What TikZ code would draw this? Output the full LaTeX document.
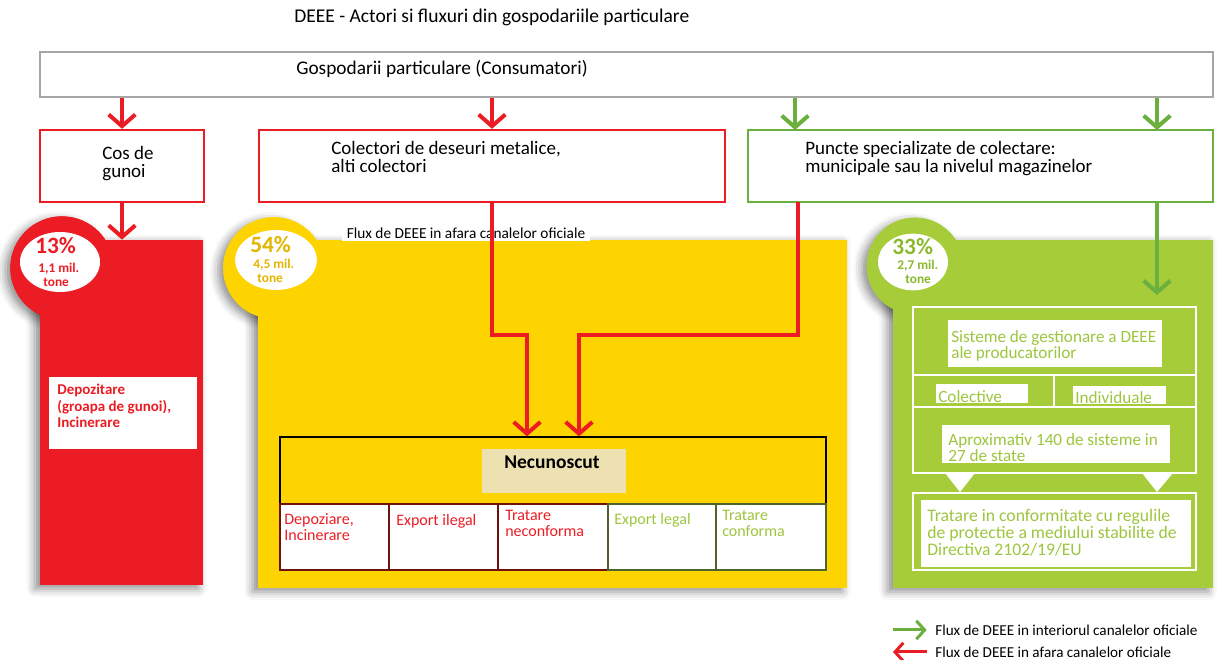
\documentclass[tikz,border=0pt]{standalone}
\usepackage{fontspec}
\setmainfont{Carlito}
\usetikzlibrary{arrows.meta,fit,shapes.geometric,shadows.blur,positioning}

\definecolor{deeered}{HTML}{EC1C24}
\definecolor{deeeyellow}{HTML}{FDD300}
\definecolor{deeegreen}{HTML}{A6CC3A}
\definecolor{flowgreen}{HTML}{6BAF3E}
\definecolor{textgreen}{HTML}{9DC63E}
\definecolor{pctyellow}{HTML}{E3B500}
\definecolor{pctgreen}{HTML}{8CB82E}
\definecolor{cellred}{HTML}{6E1111}
\definecolor{cellgreen}{HTML}{4E632C}
\definecolor{beige}{HTML}{EDE1B2}

\tikzset{>=stealth,
  every node/.style={inner sep=0pt},
  lbl/.style={anchor=north west, align=left, font=\fontsize{11.4}{10.8}\selectfont},
  graybox/.style={draw=gray!70, line width=1.4pt},
  redbox/.style={draw=deeered, line width=1.4pt},
  greenbox/.style={draw=flowgreen, line width=1.4pt},
  wbox/.style={fill=white},
  wline/.style={draw=white, line width=1.2pt},
  panelshadow/.style={blur shadow={shadow xshift=-3pt, shadow yshift=-2pt, shadow blur radius=5pt, shadow opacity=45}},
  bubble/.style={circle, minimum size=#1},
  inner/.style={ellipse, fill=white},
  pct/.style={anchor=west, font=\bfseries\fontsize{14}{15}\selectfont},
  mil/.style={anchor=west, font=\bfseries\fontsize{8}{8}\selectfont},
  redflow/.style={draw=deeered, line width=2.4pt, -{Straight Barb[length=7pt,width=16pt]}},
  greenflow/.style={draw=flowgreen, line width=2.4pt, -{Straight Barb[length=7pt,width=16pt]}},
  legtip/.style={line width=1.8pt, -{Straight Barb[length=5pt,width=11pt]}},
  cell/.style={fill=white, line width=1.2pt},
  celltxt/.style={lbl, font=\fontsize{9.6}{9.6}\selectfont},
  grtxt/.style={lbl, text=textgreen, font=\fontsize{10.3}{9.9}\selectfont},
}

\begin{document}
\begin{tikzpicture}[x=0.6pt,y=-0.6pt]
\useasboundingbox (0,0) rectangle (1218,660);

% title and households
\node[lbl, anchor=west, font=\fontsize{11.7}{12}\selectfont] (title) at (294,17) {DEEE - Actori si fluxuri din gospodariile particulare};
\node[graybox, fit={(40,52) (1213,97)}] (gosp) {};
\node[lbl, anchor=west, font=\fontsize{11.6}{12}\selectfont] (gosptxt) at (296,69) {Gospodarii particulare (Consumatori)};

% collectors
\node[redbox, fit={(40,130) (204,202)}] (cos) {};
\node[lbl] (costxt) at (102,146) {Cos de\\gunoi};
\node[redbox, fit={(259,130) (725,202)}] (colect) {};
\node[lbl] (colecttxt) at (331,141) {Colectori de deseuri metalice,\\alti colectori};
\node[greenbox, fit={(748,130) (1213,202)}] (puncte) {};
\node[lbl] (punctetxt) at (805,141) {Puncte specializate de colectare:\\municipale sau la nivelul magazinelor};

\coordinate (pu1) at (798,202);
\coordinate (pu2) at (795,130);
\coordinate (pu3) at (1157,130);
\coordinate (gtip) at (1157,295);

% panels
\node[fit={(40,240) (203,585)}] (rcol) {};
\node[fit={(258,240) (847,588)}] (ypan) {};
\node[fit={(893,240) (1213,588)}] (gpan) {};

\node[bubble=62pt, fill=deeered, panelshadow] (rbub) at (62,268) {};
\fill[deeered, panelshadow] (rcol.south west) rectangle (rcol.north east);
\fill[deeered] (rbub.center) circle[radius=31pt];

\node[bubble=61pt, fill=deeeyellow, panelshadow] (ybub) at (274,268) {};
\fill[deeeyellow, panelshadow] (ypan.south west) rectangle (ypan.north east);
\fill[deeeyellow] (ybub.center) circle[radius=30.5pt];

\node[bubble=58pt, fill=deeegreen, panelshadow] (gbub) at (915,266) {};
\fill[deeegreen, panelshadow] (gpan.south west) rectangle (gpan.north east);
\fill[deeegreen] (gbub.center) circle[radius=29pt];

% percentages
\node[inner, minimum width=48pt, minimum height=36pt] (rin) at (60,262) {};
\node[pct, text=deeered] (rpct) at (35,246) {13\%};
\node[mil, text=deeered] (rmil) at (38,269) {1,1 mil.};
\node[mil, text=deeered] (rton) at (43,282) {tone};

\node[inner, minimum width=49pt, minimum height=36pt] (yin) at (276,260) {};
\node[pct, text=pctyellow] (ypct) at (250,245) {54\%};
\node[mil, text=pctyellow] (ymil) at (253,265) {4,5 mil.};
\node[mil, text=pctyellow] (yton) at (257,278) {tone};

\node[inner, minimum width=42pt, minimum height=34pt] (gin) at (913,262) {};
\node[pct, text=pctgreen] (gpct) at (892,247) {33\%};
\node[mil, text=pctgreen] (gmil) at (897,266) {2,7 mil.};
\node[mil, text=pctgreen] (gton) at (905,279) {tone};

% red column
\node[wbox, fit={(49,377) (197,449)}] (depbox) {};
\node[lbl, text=deeered, font=\bfseries\fontsize{9}{9.9}\selectfont] (deptxt) at (57,384) {Depozitare\\(groapa de gunoi),\\Incinerare};

% yellow panel
\node[fill=white, inner xsep=3pt, inner ysep=1.5pt, font=\fontsize{9.2}{10}\selectfont] (fluxlbl) at (466,233) {Flux de DEEE in afara canalelor oficiale};
\node[draw=black, line width=0.8pt, fit={(280,437) (826,570)}] (tbl) {};
\node[fill=beige, fit={(482,449) (626,493)}] (necun) {};
\node[font=\bfseries\fontsize{11.7}{12}\selectfont] (necuntxt) at (552,462) {Necunoscut};

\node[cell, draw=cellred, fit={(280,504) (389,570)}] (c1) {};
\node[cell, draw=cellred, fit={(389,504) (498,570)}] (c2) {};
\node[cell, draw=cellred, fit={(498,504) (608,570)}] (c3) {};
\node[cell, draw=cellgreen, fit={(608,504) (716,570)}] (c4) {};
\node[cell, draw=cellgreen, fit={(716,504) (826,570)}] (c5) {};
\node[celltxt, text=deeered] (c1txt) at (284,513) {Depoziare,\\Incinerare};
\node[celltxt, text=deeered] (c2txt) at (396,514) {Export ilegal};
\node[celltxt, text=deeered] (c3txt) at (505,510) {Tratare\\neconforma};
\node[celltxt, text=textgreen] (c4txt) at (614,513) {Export legal};
\node[celltxt, text=textgreen] (c5txt) at (722,510) {Tratare\\conforma};

% green panel
\node[wline, fit={(913,307) (1196,473)}] (gfr) {};
\draw[wline] (gfr.west |- 0,375) -- (gfr.east |- 0,375);
\draw[wline] (gfr.west |- 0,407) -- (gfr.east |- 0,407);
\draw[wline] (1054,375) -- (1054,407);
\node[wbox, fit={(948,320) (1162,367)}] (sis) {};
\node[grtxt] (sistxt) at (951,330) {Sisteme de gestionare a DEEE\\ale producatorilor};
\node[wbox, fit={(936,384) (1028,403)}] (colv) {};
\node[grtxt] (colvtxt) at (938,390) {Colective};
\node[wbox, fit={(1073,386) (1166,404)}] (indv) {};
\node[grtxt] (indvtxt) at (1075,391) {Individuale};
\node[wbox, fit={(942,425) (1170,463)}] (aprox) {};
\node[grtxt] (aproxtxt) at (948,433) {Aproximativ 140 de sisteme in\\27 de state};
\fill[white] (945,473) -- (975,473) -- (960,492) -- cycle;
\fill[white] (1142,473) -- (1173,473) -- (1157,492) -- cycle;
\node[wline, fit={(913,493) (1196,570)}] (gfr2) {};
\node[wbox, fit={(921,500) (1191,567)}] (trat) {};
\node[grtxt, font=\fontsize{10.6}{10.2}\selectfont] (trattxt) at (927,509) {Tratare in conformitate cu regulile\\de protectie a mediului stabilite de\\Directiva 2102/19/EU};

% flows
\draw[redflow] (cos.north |- gosp.south) -- (cos.north);
\draw[redflow] (colect.north |- gosp.south) -- (colect.north);
\draw[greenflow] (pu2 |- gosp.south) -- (pu2);
\draw[greenflow] (pu3 |- gosp.south) -- (pu3);
\draw[redflow] (cos.south) -- (cos.south |- rcol.north);
\coordinate (j1) at (527,335);
\coordinate (j2) at (579,335);
\draw[redflow] (colect.south) |- (j1) -- (j1 |- tbl.north);
\draw[redflow] (pu1) |- (j2) -- (j2 |- tbl.north);
\draw[greenflow] (pu3 |- puncte.south) -- (gtip);

% legend
\node[lbl, anchor=west, font=\fontsize{9.1}{10}\selectfont] (legin) at (935,630) {Flux de DEEE in interiorul canalelor oficiale};
\node[lbl, anchor=west, font=\fontsize{9.1}{10}\selectfont] (legout) at (935,652) {Flux de DEEE in afara canalelor oficiale};
\coordinate (lgin) at (893,630);
\coordinate (lgout) at (893,652);
\draw[greenflow, legtip] (lgin) -- ([xshift=-5pt]legin.west);
\draw[redflow, legtip] ([xshift=-5pt]legout.west) -- (lgout);
\end{tikzpicture}
\end{document}
